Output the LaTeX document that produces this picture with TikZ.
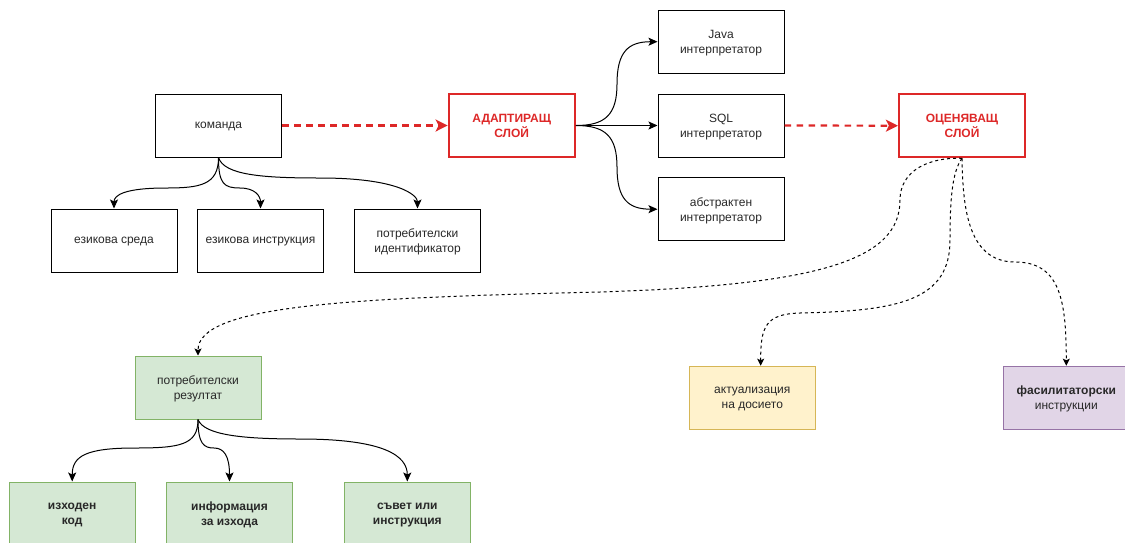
\documentclass[tikz,border=0pt]{standalone}
\usepackage{fontspec}
\setmainfont{Liberation Sans}
\usetikzlibrary{arrows.meta,calc}

\definecolor{alarm}{RGB}{221,40,40}
\definecolor{ink}{RGB}{40,40,40}
\definecolor{greenfill}{HTML}{D5E8D4}
\definecolor{greenline}{HTML}{82B366}
\definecolor{yellowfill}{HTML}{FFF2CC}
\definecolor{yellowline}{HTML}{D6B656}
\definecolor{purplefill}{HTML}{E1D5E7}
\definecolor{purpleline}{HTML}{9673A6}

\begin{document}
\begin{tikzpicture}[x=1pt,y=-1pt,
  box/.style={draw=black, line width=1pt, minimum width=126pt, minimum height=63pt,
    inner sep=0pt, align=center, text=ink, text depth=0pt, font=\fontsize{12}{15}\selectfont},
  redlayer/.style={box, draw=alarm, line width=2.2pt, text=alarm,
    font=\fontsize{12}{15}\selectfont\bfseries},
  outbox/.style={box, fill=greenfill, draw=greenline},
  boldout/.style={outbox, font=\fontsize{12}{15}\selectfont\bfseries},
  filebox/.style={box, fill=yellowfill, draw=yellowline},
  helpbox/.style={box, fill=purplefill, draw=purpleline},
  link/.style={draw=black, line width=1pt, -{Stealth[length=9pt,width=8pt,inset=2pt]}},
  redflow/.style={draw=alarm, line width=2.2pt, dash pattern=on 6.5pt off 5.5pt,
    -{Stealth[length=12pt,width=12pt,inset=3pt]}},
  dotlink/.style={draw=black, line width=1pt, dash pattern=on 3pt off 3pt,
    -{Stealth[length=7pt,width=7pt,inset=1.5pt]}}
]
\useasboundingbox (0,0) rectangle (1125,542);
\clip (0,0) rectangle (1125,542);

% command and its parts
\node[box] (cmd) at (218.5,125.5) {команда};
\node[box] (env) at (114,240.5) {езикова среда};
\node[box] (instr) at (260.5,240.5) {езикова инструкция};
\node[box] (uid) at (417.5,240.5) {потребителски\\идентификатор};

% adapter layer and interpreters
\node[redlayer] (adapt) at (511.7,125.5) {АДАПТИРАЩ\\СЛОЙ};
\node[box] (java) at (721,41.7) {Java\\интерпретатор};
\node[box] (sql) at (721,125.5) {SQL\\интерпретатор};
\node[box] (abstr) at (721,209.2) {абстрактен\\интерпретатор};

% evaluation layer and its outcomes
\node[redlayer] (eval) at (962,125.7) {ОЦЕНЯВАЩ\\СЛОЙ};
\node[outbox] (result) at (198,387.5) {потребителски\\резултат};
\node[boldout] (src) at (72.2,513.5) {изходен\\код};
\node[boldout] (info) at (229.5,513.5) {информация\\за изхода};
\node[boldout] (advice) at (407.3,513.5) {съвет или\\инструкция};
\node[filebox] (update) at (752.3,397.7) {актуализация\\на досието};
\node[helpbox] (facil) at (1066.3,397.7) {\textbf{фасилитаторски}\\инструкции};

% command -> parts
\draw[link] (cmd.south) .. controls (218.5,185) and (200,188) .. (166,188)
  .. controls (125,188) and (114,195) .. (env.north);
\draw[link] (cmd.south) .. controls (218.5,184) and (224,188) .. (240,188)
  .. controls (255,188) and (260.5,196) .. (instr.north);
\draw[link] (cmd.south) .. controls (224,175) and (262,178) .. (320,178)
  .. controls (398,178) and (417.5,195) .. (uid.north);

% main flow
\draw[redflow] (cmd.east) -- (adapt.west);
\draw[redflow] (sql.east) -- (eval.west);

% adapter -> interpreters
\draw[link] (adapt.east) .. controls (605,125.5) and (617,115) .. (617,84)
  .. controls (617,52) and (628,41.7) .. (java.west);
\draw[link] (adapt.east) -- (sql.west);
\draw[link] (adapt.east) .. controls (605,125.5) and (617,136) .. (617,167)
  .. controls (617,199) and (628,209.2) .. (abstr.west);

% evaluation -> outcomes
\draw[dotlink] (eval.south) .. controls (930,157) and (900,170) .. (900,200)
  .. controls (900,260) and (820,285) .. (600,292)
  .. controls (350,298) and (198,305) .. (result.north);
\draw[dotlink] (eval.south) .. controls (952,172) and (950,200) .. (950,240)
  .. controls (950,300) and (900,311) .. (800,313)
  .. controls (766,314) and (760.5,326) .. ($(update.north)+(8.4,0)$);
\draw[dotlink] (eval.south) .. controls (963,200) and (965,262) .. (1015,262)
  .. controls (1060,262) and (1066.3,300) .. (facil.north);

% result -> parts
\draw[link] (result.south) .. controls (198,445) and (180,448) .. (135,448)
  .. controls (86,448) and (72.2,456) .. (src.north);
\draw[link] (result.south) .. controls (198,444) and (204,448) .. (214,448)
  .. controls (224,448) and (229.5,456) .. (info.north);
\draw[link] (result.south) .. controls (204,435) and (242,439) .. (300,439)
  .. controls (385,439) and (407.3,456) .. (advice.north);
\end{tikzpicture}
\end{document}
